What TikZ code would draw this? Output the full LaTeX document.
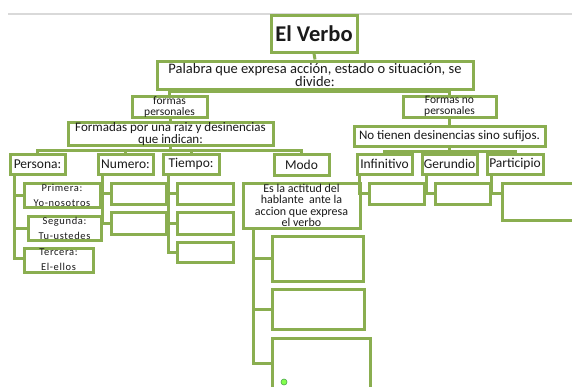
\documentclass[tikz,border=0pt]{standalone}
\usepackage{fontspec}
\setmainfont{Carlito}
\definecolor{vgreen}{HTML}{8AAE50}
\definecolor{vtext}{HTML}{1A1A1A}
\tikzset{
  box/.style={draw=vgreen, line width=3pt, fill=white, inner sep=0pt, align=center, text=vtext},
  conn/.style={draw=vgreen, line width=3pt},
  ftitle/.style={font=\bfseries\fontsize{22.5}{24}\selectfont},
  fmain/.style={font=\fontsize{14.5}{13}\selectfont},
  fform/.style={font=\fontsize{11.5}{11}\selectfont},
  fsub/.style={font=\fontsize{13}{11}\selectfont},
  flab/.style={font=\fontsize{13.5}{14}\selectfont},
  fesla/.style={font=\fontsize{12}{11.3}\selectfont},
  fsmall/.style={font=\fontsize{10.5}{15}\selectfont\addfontfeatures{LetterSpace=6}},
}
\newcommand\bxn[7][]{%
  \node[box,#1, minimum width={(#5-#3)*1pt}, minimum height={(#6-#4)*1pt}]
    (#2) at ({(#3+#5)/2},{(#4+#6)/2}) {#7};}
\begin{document}
\begin{tikzpicture}[x=1pt,y=-1pt]
\useasboundingbox (0,0) rectangle (572,386);
\clip (0,0) rectangle (572,386);
\fill[white] (0,0) rectangle (572,386);
% top gray rule
\draw[gray!30, line width=1.5pt] (8,14) -- (572,14);

% level 0-2
\bxn[ftitle]{verbo}{271}{15}{357}{52}{El Verbo}
\bxn[fmain]{palabra}{157}{61}{473}{89}{Palabra que expresa acción, estado o situación, se\\divide:}
\bxn[fform]{fp}{132}{96}{207}{117}{formas\\personales}
\bxn[fform]{fnp}{403}{96}{496}{117}{Formas no\\personales}
\bxn[fsub]{formadas}{68}{123}{273}{145}{Formadas por una raiz y desinencias\\que indican:}
\bxn[fsub]{notienen}{354}{126}{545}{146}{No tienen desinencias sino sufijos.}

% level 3
\bxn[flab]{persona}{10}{154}{65}{174}{Persona:}
\bxn[flab]{numero}{98}{154}{153}{174}{Numero:}
\bxn[flab]{tiempo}{163}{154}{219}{174}{Tiempo:}
\bxn[flab]{modo}{274}{154}{329}{175}{Modo}
\bxn[flab]{infinitivo}{357}{154}{412}{174}{Infinitivo}
\bxn[flab]{gerundio}{422}{154}{477}{174}{Gerundio}
\bxn[flab]{participio}{487}{154}{543}{174}{Participio}

% persona children
\bxn[fsmall]{primera}{24}{183}{100}{207}{Primera:\\Yo-nosotros}
\bxn[fsmall]{segunda}{28}{216}{101}{240}{Segunda:\\Tu-ustedes}
\bxn[fsmall]{tercera}{24}{248}{93}{272}{Tercera:\\El-ellos}

% numero children
\bxn{numa}{111}{183}{166}{204}{}
\bxn{numb}{111}{212}{166}{234}{}

% tiempo children
\bxn{tiea}{177}{183}{233}{204}{}
\bxn{tieb}{177}{212}{233}{234}{}
\bxn{tiec}{177}{242}{233}{262}{}

% modo child
\bxn[fesla]{esla}{243}{183}{360}{228}{Es la actitud del\\hablante\ \ ante la\\accion que expresa\\el verbo}
\bxn{esa}{272}{236}{363}{281}{}
\bxn{esb}{272}{289}{364}{329}{}
\bxn{esc}{272}{338}{370}{396}{}

% no personales children
\bxn{infa}{369}{183}{424}{204}{}
\bxn{gera}{435}{183}{490}{204}{}
\bxn{para}{502}{183}{582}{220}{}

% connectors
\coordinate (j1) at (314,91);
\coordinate (j2) at (170.5,150);
\coordinate (j3) at (449.5,151);
\draw[conn] (verbo.south) -- (palabra.north);
\draw[conn] (palabra.south) -- (j1);
\draw[conn] (fp.north) |- (j1) -| (fnp.north);
\draw[conn] (fp.south -| formadas.north) -- (formadas.north);
\draw[conn] (fnp.south) -- (notienen.north);
\draw[conn] (formadas.south) -- (j2);
\draw[conn] (persona.north) |- (j2) -| (modo.north);
\draw[conn] (numero.north) -- (numero.north |- j2);
\draw[conn] (tiempo.north) -- (tiempo.north |- j2);
\draw[conn] (notienen.south) -- (j3);
\draw[conn] (infinitivo.north) |- (j3) -| (participio.north);
\draw[conn] (gerundio.north) -- (gerundio.north |- j3);

\draw[conn] ([xshift=6pt]persona.south west) |- (primera.west);
\draw[conn] ([xshift=6pt]persona.south west) |- (segunda.west);
\draw[conn] ([xshift=6pt]persona.south west) |- ([yshift=2pt]tercera.west);
\draw[conn] ([xshift=6pt]numero.south west) |- (numa.west);
\draw[conn] ([xshift=6pt]numero.south west) |- (numb.west);
\draw[conn] ([xshift=7pt]tiempo.south west) |- (tiea.west);
\draw[conn] ([xshift=7pt]tiempo.south west) |- (tieb.west);
\draw[conn] ([xshift=7pt]tiempo.south west) |- (tiec.west);
\draw[conn] ([xshift=12pt]esla.south west) |- (esa.west);
\draw[conn] ([xshift=12pt]esla.south west) |- (esb.west);
\draw[conn] ([xshift=12pt]esla.south west) |- ([yshift=4pt]esc.west);
\draw[conn] ([xshift=4pt]infinitivo.south west) |- (infa.west);
\draw[conn] ([xshift=6pt]gerundio.south west) |- (gera.west);
\draw[conn] ([xshift=6pt]participio.south west) |- ([yshift=8.5pt]para.west);

% small green handle
\node[circle, draw=green!50!black!70, fill=green!60!lime!70, line width=0.6pt, inner sep=0pt, minimum size=6pt] (handle) at (284,382) {};
\end{tikzpicture}
\end{document}
